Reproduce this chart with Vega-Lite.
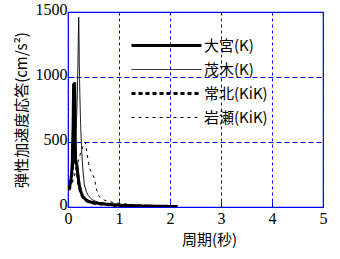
{
  "$schema": "https://vega.github.io/schema/vega-lite/v6.json",
  "width": 255,
  "height": 195,
  "autosize": "none",
  "padding": {"left": 68, "top": 12, "right": 17, "bottom": 52},
  "background": "white",
  "config": {
    "view": {"stroke": "#0000ff", "strokeWidth": 1.2},
    "font": "Noto Sans CJK JP"
  },
  "data": {
    "values": [
      {"s": "大宮(K)", "T": 0.02, "V": 140}, {"s": "大宮(K)", "T": 0.04, "V": 170}, {"s": "大宮(K)", "T": 0.06, "V": 220}, {"s": "大宮(K)", "T": 0.08, "V": 300}, {"s": "大宮(K)", "T": 0.10, "V": 620}, {"s": "大宮(K)", "T": 0.11, "V": 950}, {"s": "大宮(K)", "T": 0.12, "V": 500}, {"s": "大宮(K)", "T": 0.13, "V": 960}, {"s": "大宮(K)", "T": 0.14, "V": 560}, {"s": "大宮(K)", "T": 0.15, "V": 340}, {"s": "大宮(K)", "T": 0.17, "V": 330}, {"s": "大宮(K)", "T": 0.19, "V": 260}, {"s": "大宮(K)", "T": 0.22, "V": 170}, {"s": "大宮(K)", "T": 0.25, "V": 120}, {"s": "大宮(K)", "T": 0.29, "V": 80}, {"s": "大宮(K)", "T": 0.35, "V": 55}, {"s": "大宮(K)", "T": 0.42, "V": 40}, {"s": "大宮(K)", "T": 0.5, "V": 33}, {"s": "大宮(K)", "T": 0.61, "V": 28}, {"s": "大宮(K)", "T": 0.75, "V": 22}, {"s": "大宮(K)", "T": 0.94, "V": 15}, {"s": "大宮(K)", "T": 1.1, "V": 12}, {"s": "大宮(K)", "T": 1.3, "V": 10}, {"s": "大宮(K)", "T": 1.6, "V": 7}, {"s": "大宮(K)", "T": 1.9, "V": 5}, {"s": "大宮(K)", "T": 2.15, "V": 4},
      {"s": "茂木(K)", "T": 0.02, "V": 150}, {"s": "茂木(K)", "T": 0.06, "V": 200}, {"s": "茂木(K)", "T": 0.10, "V": 300}, {"s": "茂木(K)", "T": 0.14, "V": 450}, {"s": "茂木(K)", "T": 0.17, "V": 700}, {"s": "茂木(K)", "T": 0.19, "V": 1000}, {"s": "茂木(K)", "T": 0.21, "V": 1460}, {"s": "茂木(K)", "T": 0.23, "V": 900}, {"s": "茂木(K)", "T": 0.25, "V": 600}, {"s": "茂木(K)", "T": 0.27, "V": 420}, {"s": "茂木(K)", "T": 0.29, "V": 300}, {"s": "茂木(K)", "T": 0.32, "V": 170}, {"s": "茂木(K)", "T": 0.36, "V": 120}, {"s": "茂木(K)", "T": 0.39, "V": 92}, {"s": "茂木(K)", "T": 0.44, "V": 70}, {"s": "茂木(K)", "T": 0.48, "V": 54}, {"s": "茂木(K)", "T": 0.6, "V": 35}, {"s": "茂木(K)", "T": 0.8, "V": 22}, {"s": "茂木(K)", "T": 1.0, "V": 15}, {"s": "茂木(K)", "T": 1.3, "V": 10}, {"s": "茂木(K)", "T": 1.6, "V": 7}, {"s": "茂木(K)", "T": 2.0, "V": 5},
      {"s": "常北(KiK)", "T": 0.02, "V": 130}, {"s": "常北(KiK)", "T": 0.05, "V": 170}, {"s": "常北(KiK)", "T": 0.08, "V": 260}, {"s": "常北(KiK)", "T": 0.10, "V": 420}, {"s": "常北(KiK)", "T": 0.12, "V": 620}, {"s": "常北(KiK)", "T": 0.13, "V": 380}, {"s": "常北(KiK)", "T": 0.15, "V": 370}, {"s": "常北(KiK)", "T": 0.18, "V": 280}, {"s": "常北(KiK)", "T": 0.21, "V": 180}, {"s": "常北(KiK)", "T": 0.25, "V": 110}, {"s": "常北(KiK)", "T": 0.3, "V": 70}, {"s": "常北(KiK)", "T": 0.38, "V": 45}, {"s": "常北(KiK)", "T": 0.5, "V": 30}, {"s": "常北(KiK)", "T": 0.7, "V": 20}, {"s": "常北(KiK)", "T": 0.9, "V": 14}, {"s": "常北(KiK)", "T": 1.2, "V": 9},
      {"s": "岩瀬(KiK)", "T": 0.02, "V": 140}, {"s": "岩瀬(KiK)", "T": 0.08, "V": 180}, {"s": "岩瀬(KiK)", "T": 0.14, "V": 260}, {"s": "岩瀬(KiK)", "T": 0.2, "V": 350}, {"s": "岩瀬(KiK)", "T": 0.25, "V": 420}, {"s": "岩瀬(KiK)", "T": 0.3, "V": 470}, {"s": "岩瀬(KiK)", "T": 0.34, "V": 500}, {"s": "岩瀬(KiK)", "T": 0.37, "V": 420}, {"s": "岩瀬(KiK)", "T": 0.42, "V": 300}, {"s": "岩瀬(KiK)", "T": 0.47, "V": 260}, {"s": "岩瀬(KiK)", "T": 0.52, "V": 220}, {"s": "岩瀬(KiK)", "T": 0.55, "V": 146}, {"s": "岩瀬(KiK)", "T": 0.61, "V": 80}, {"s": "岩瀬(KiK)", "T": 0.7, "V": 55}, {"s": "岩瀬(KiK)", "T": 0.81, "V": 40}, {"s": "岩瀬(KiK)", "T": 1.0, "V": 28}, {"s": "岩瀬(KiK)", "T": 1.3, "V": 18}, {"s": "岩瀬(KiK)", "T": 1.7, "V": 12}, {"s": "岩瀬(KiK)", "T": 2.0, "V": 8}
    ]
  },
  "mark": {"type": "line", "color": "black", "clip": true, "interpolate": "linear"},
  "encoding": {
    "x": {
      "field": "T", "type": "quantitative",
      "scale": {"domain": [0, 5], "nice": false},
      "axis": {
        "values": [0, 1, 2, 3, 4, 5], "format": "d", "title": "周期(秒)", "titleFontSize": 15, "titleFontWeight": "normal", "titleColor": "black",
        "titleX": 141, "titlePadding": 6,
        "labelFont": "Liberation Sans Narrow", "labelFontSize": 16, "labelColor": "black", "labelPadding": 9, "labelFlush": false,
        "domain": false, "ticks": true, "tickSize": -6, "tickColor": "#0000ff",
        "grid": true, "gridColor": "#0000ff", "gridOpacity": 1, "gridDash": [3, 3], "gridWidth": 1
      }
    },
    "y": {
      "field": "V", "type": "quantitative",
      "scale": {"domain": [0, 1500], "nice": false},
      "axis": {
        "values": [0, 500, 1000, 1500], "format": "d", "title": "弾性加速度応答(cm/s²)", "titleFontSize": 15, "titleFontWeight": "normal", "titleColor": "black",
        "titlePadding": 6,
        "labelFont": "Liberation Sans Narrow", "labelFontSize": 16, "labelColor": "black", "labelPadding": 7, "labelFlush": false, "labelOffset": -3,
        "domain": false, "ticks": true, "tickSize": -6, "tickColor": "#0000ff",
        "grid": true, "gridColor": "#0000ff", "gridOpacity": 1, "gridDash": [5, 3], "gridWidth": 1
      }
    },
    "detail": {"field": "s"},
    "strokeWidth": {
      "field": "s", "type": "nominal",
      "scale": {"type": "ordinal", "domain": ["大宮(K)", "茂木(K)", "常北(KiK)", "岩瀬(KiK)"], "range": [3, 1, 3, 1]},
      "legend": {
        "orient": "none", "legendX": 61, "legendY": 26, "title": null,
        "symbolType": "M-1,0H13", "symbolSize": 100, "symbolStrokeColor": "black", "symbolFillColor": "transparent",
        "labelFontSize": 15, "labelColor": "black", "labelOffset": 60, "rowPadding": 8
      }
    },
    "strokeDash": {
      "field": "s", "type": "nominal",
      "scale": {"domain": ["大宮(K)", "茂木(K)", "常北(KiK)", "岩瀬(KiK)"], "range": [[1, 0], [1, 0], [4, 3], [3, 4]]},
      "legend": {
        "orient": "none", "legendX": 61, "legendY": 26, "title": null,
        "symbolType": "M-1,0H13", "symbolSize": 100, "symbolStrokeColor": "black", "symbolFillColor": "transparent",
        "labelFontSize": 15, "labelColor": "black", "labelOffset": 60, "rowPadding": 8
      }
    }
  }
}
